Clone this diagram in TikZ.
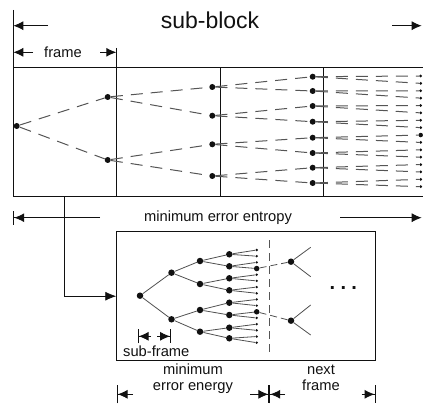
\documentclass[tikz,border=0pt]{standalone}
\usepackage{fontspec}
\setmainfont{Liberation Sans}
\usetikzlibrary{arrows.meta}
\definecolor{ftInk}{HTML}{111111}
\definecolor{ftGray}{HTML}{505050}
\definecolor{ftDash}{HTML}{555555}
\tikzset{
  lbl/.style={
    font=\fontsize{14.7}{16}\selectfont,
    inner sep=0pt,
    align=center,
    text=ftInk
  },
  frameline/.style={
    draw=ftInk,
    line width=0.8pt
  },
  tdot/.style={
    circle,
    fill=ftInk,
    inner sep=0pt,
    minimum size=6pt
  },
  tlink/.style={
    draw=ftDash,
    line width=1pt,
    dash pattern=on 12pt off 8pt
  },
  ilink/.style={
    draw=ftGray,
    line width=0.8pt
  },
  dimarrow/.style={
    -{Latex[length=10pt,width=9pt]},
    line width=0.9pt,
    draw=ftInk
  },
  dimbar/.style={
    -{Latex[length=10pt,width=9pt]Bar[width=#1]},
    line width=0.9pt,
    draw=ftInk
  },
  dimbar/.default=14pt,
  feed/.style={
    -{Latex[length=11pt,width=9pt]},
    line width=0.8pt,
    draw=ftInk
  }
}

\begin{document}
\begin{tikzpicture}[x=1pt,y=-1pt]

\useasboundingbox (0,0) rectangle (423,409);

\draw[frameline] (13.3,10) -- (13.3,196.7) -- (423,196.7);
\draw[frameline] (13.3,67.7) -- (423,67.7);
\draw[frameline] (116.3,48) -- (116.3,196.7);
\draw[frameline] (220,67.7) -- (220,196.7);
\draw[frameline] (323.3,67.7) -- (323.3,196.7);

\node[lbl, font=\fontsize{23}{23}\selectfont, anchor=base] (subblock) at (210,28.3) {sub-block};
\coordinate (sbA) at (48,25.7);
\coordinate (sbB) at (13.3,25.7);
\coordinate (sbC) at (392,25.7);
\coordinate (sbD) at (421.7,25.7);
\draw[dimarrow] (sbA) -- (sbB);
\draw[dimarrow] (sbC) -- (sbD);

\node[lbl, anchor=base] (frame) at (63,57.3) {frame};
\coordinate (frA) at (33,52.3);
\coordinate (frB) at (13.3,52.3);
\coordinate (frC) at (100,52.3);
\coordinate (frD) at (116.3,52.3);
\draw[dimarrow] (frA) -- (frB);
\draw[dimarrow] (frC) -- (frD);

\node[tdot] (a1) at (16.7,126) {};
\foreach \y [count=\k from 2] in {97,160}
  \node[tdot] (a\k) at (107.7,\y) {};
\foreach \y [count=\k from 4] in {87,115.7,144.3,176}
  \node[tdot] (a\k) at (212.3,\y) {};
\foreach \y [count=\k from 8] in {76.7,91,106,121.7,137.7,153,167.7,183}
  \node[tdot] (a\k) at (312.7,\y) {};
\foreach \k in {16,...,31}{
  \pgfmathsetmacro\r{\k==24 ? 4.5 : 3}
  \node[tdot, minimum size=\r pt] (a\k) at (420.7,{76+7.38*(\k-16)}) {};
}
\foreach \k in {1,...,15}{
  \pgfmathtruncatemacro\lo{2*\k}
  \pgfmathtruncatemacro\hi{2*\k+1}
  \draw[tlink] (a\k) -- (a\lo);
  \draw[tlink] (a\k) -- (a\hi);
}

\node[lbl, anchor=base] (entropy) at (218,221) {minimum error entropy};
\coordinate (enA) at (100,217.7);
\coordinate (enB) at (13.3,217.7);
\coordinate (enC) at (340,217.7);
\coordinate (enD) at (421.7,217.7);
\draw[dimbar] (enA) -- (enB);
\draw[dimarrow] (enC) -- (enD);

\node[frameline, draw, inner sep=0pt, minimum width=259pt, minimum height=129pt] (inset) at (246.2,296.2) {};
\coordinate (tap) at (64.3,196.7);
\draw[feed] (tap) |- (inset.west);

\node[tdot, minimum size=6.5pt] (b1) at (140,295.7) {};
\foreach \y [count=\k from 2] in {272.7,319.3}
  \node[tdot, minimum size=6.5pt] (b\k) at (171.5,\y) {};
\foreach \y [count=\k from 4] in {261,284,310,331.7}
  \node[tdot, minimum size=6.5pt] (b\k) at (200,\y) {};
\foreach \y [count=\k from 8] in {254.3,266.3,278.3,290.3,302.7,315,327.7,338.3}
  \node[tdot, minimum size=6.5pt] (b\k) at (229.3,\y) {};
\foreach \k in {16,...,31}{
  \pgfmathsetmacro\r{(\k==19 || \k==26) ? 5.5 : 2.6}
  \node[tdot, minimum size=\r pt] (b\k) at (256.7,{250+6.18*(\k-16)}) {};
}
\foreach \k in {1,...,15}{
  \pgfmathtruncatemacro\lo{2*\k}
  \pgfmathtruncatemacro\hi{2*\k+1}
  \draw[ilink] (b\k) -- (b\lo);
  \draw[ilink] (b\k) -- (b\hi);
}

\draw[draw=ftDash, line width=1.3pt, dash pattern=on 8pt off 5pt] (269.3,240) -- (269.3,356.7);

\node[tdot, minimum size=6.5pt] (n1) at (291,261.7) {};
\node[tdot, minimum size=6.5pt] (n2) at (291,320.7) {};
\draw[ilink, dash pattern=on 7pt off 4pt] (b19) -- (n1);
\draw[ilink, dash pattern=on 7pt off 4pt] (b26) -- (n2);
\coordinate (n1u) at (310.7,247.3);
\coordinate (n1d) at (310.7,276.7);
\coordinate (n2u) at (310.7,305);
\coordinate (n2d) at (310.7,335);
\draw[ilink] (n1) -- (n1u);
\draw[ilink] (n1) -- (n1d);
\draw[ilink] (n2) -- (n2u);
\draw[ilink] (n2) -- (n2d);
\node[lbl, font=\fontsize{20}{20}\selectfont\bfseries] (more) at (343.3,288) {.\kern5.4pt.\kern5.4pt.};

\coordinate (sfA) at (151,336.3);
\coordinate (sfB) at (137.7,336.3);
\coordinate (sfC) at (157,336.3);
\coordinate (sfD) at (171,336.3);
\draw[dimbar] (sfA) -- (sfB);
\draw[dimbar] (sfC) -- (sfD);
\node[lbl, anchor=base] (subframe) at (156.3,356.4) {sub-frame};

\node[lbl, anchor=base] (energy) at (193,390) {minimum\\error energy};
\node[lbl, anchor=base] (next) at (321,390) {next\\frame};
\coordinate (meA) at (133,394.3);
\coordinate (meB) at (116.7,394.3);
\coordinate (meC) at (250,394.3);
\coordinate (meD) at (269.3,394.3);
\coordinate (nxA) at (285,394.3);
\coordinate (nxB) at (269.3,394.3);
\coordinate (nxC) at (361.7,394.3);
\coordinate (nxD) at (375.5,394.3);
\draw[dimbar=18pt] (meA) -- (meB);
\draw[dimbar=18pt] (meC) -- (meD);
\draw[dimbar=18pt] (nxA) -- (nxB);
\draw[dimbar=18pt] (nxC) -- (nxD);

\end{tikzpicture}
\end{document}
